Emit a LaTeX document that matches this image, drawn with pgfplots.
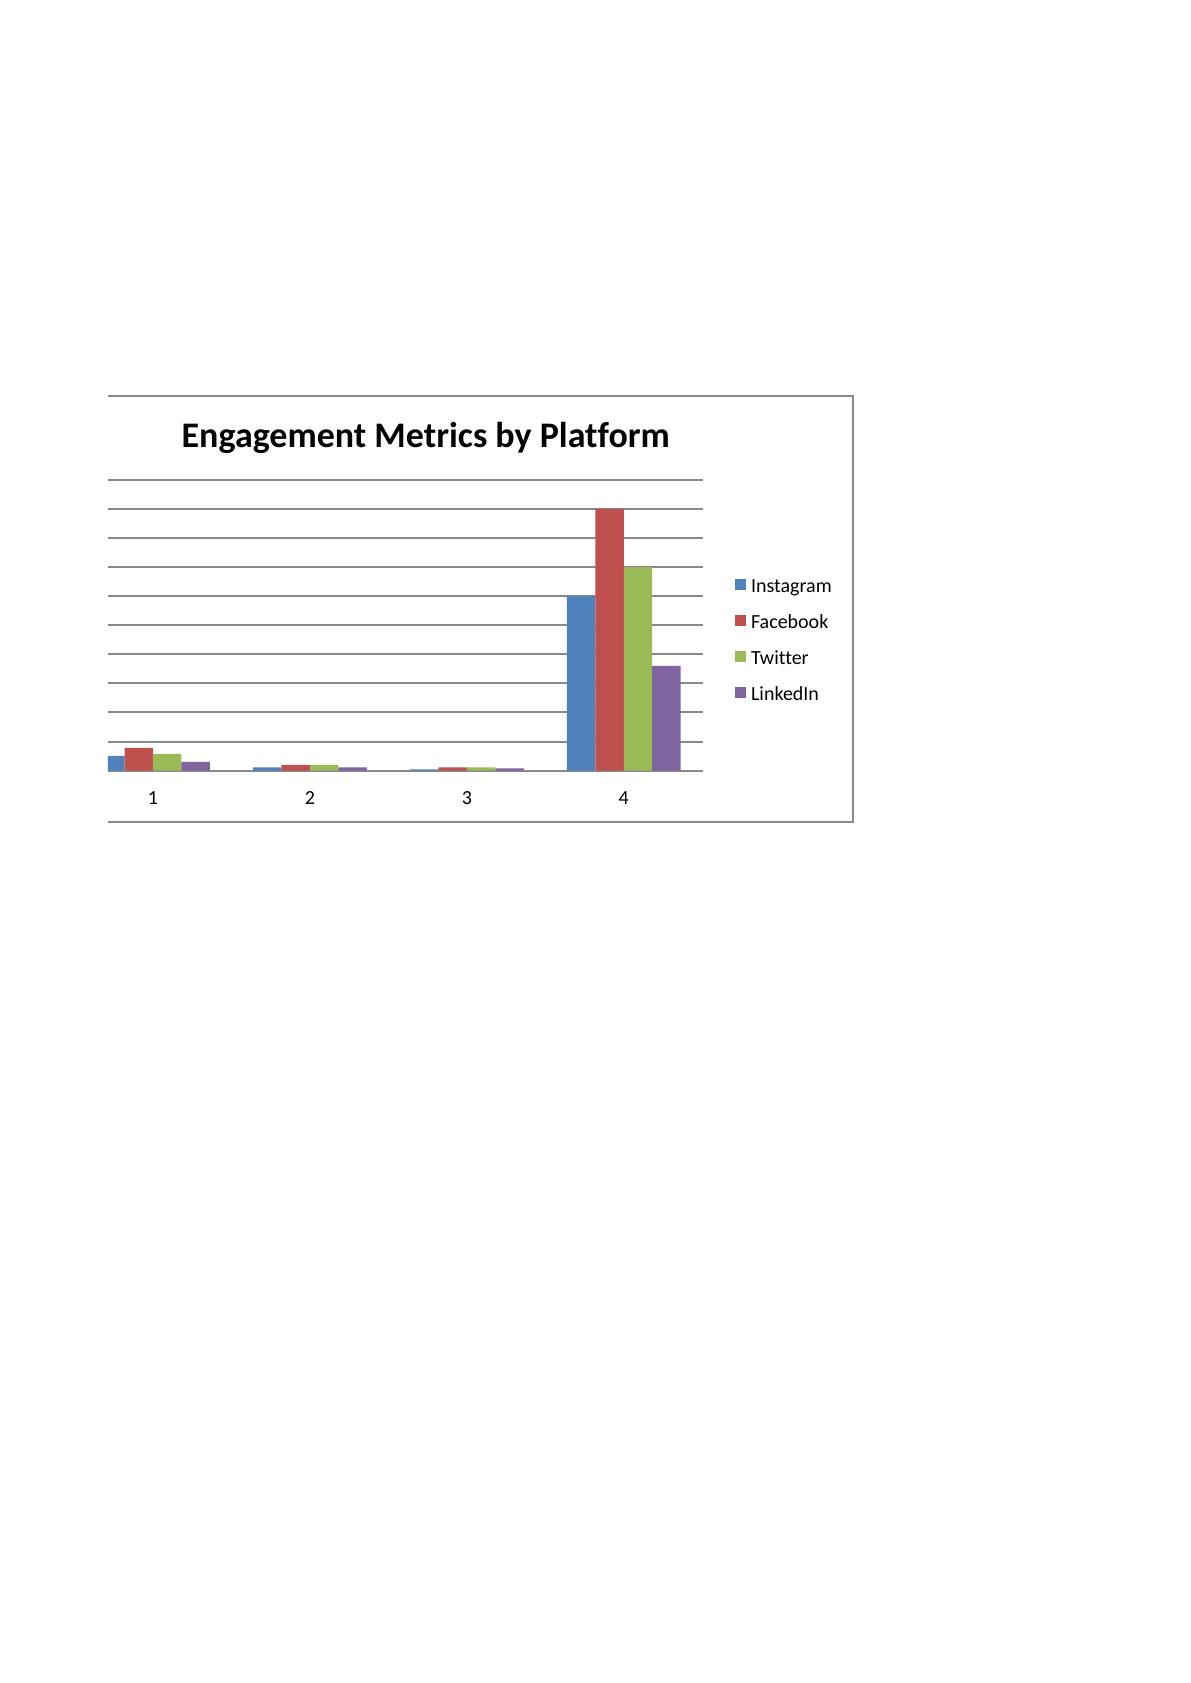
\documentclass[border=0pt]{standalone}
\usepackage{fontspec}
\setmainfont{Carlito}[Ligatures=NoCommon]
\usepackage{pgfplots}
\pgfplotsset{compat=1.18}

\definecolor{instaC}{HTML}{4F81BD}
\definecolor{faceC}{HTML}{C0504D}
\definecolor{twitC}{HTML}{9BBB59}
\definecolor{linkC}{HTML}{8064A2}
\definecolor{gridC}{HTML}{898989}

\begin{document}
\begin{tikzpicture}
% page of the size of the reference (A4, 2 px per pt)
\path[use as bounding box] (0,0) rectangle (595.28pt,841.89pt);

% chart area frame (left edge cut off in the reference)
\draw[gridC, line width=1pt] (54pt,643.89pt) -- (426.5pt,643.89pt)
  -- (426.5pt,430.89pt) -- (54pt,430.89pt);

\node[anchor=base, font=\fontsize{18}{20}\selectfont\bfseries]
  at (213pt,617.9pt) {Engagement Metrics by Platform};

\begin{axis}[
  at={(54pt,456.39pt)}, anchor=south west,
  scale only axis,
  width=297.5pt, height=145.5pt,
  ybar=0pt, bar width=0.1815,
  xmin=0.713, xmax=4.503,
  ymin=0, ymax=10,
  ytick={0,1,...,10}, yticklabels={},
  xtick={1,2,3,4}, xticklabels={1,2,3,4},
  xticklabel style={anchor=center, yshift=-13.5pt, font=\fontsize{10}{12}\selectfont},
  major tick length=0pt,
  axis line style={draw=none},
  ymajorgrids,
  major grid style={gridC, line width=1pt},
  legend style={draw=none, fill=none, at={(1.0538,0.445)}, anchor=west,
    inner sep=0pt, row sep=9.8pt, column sep=2.5pt,
    font=\fontsize{10}{12}\selectfont,
    nodes={inner sep=0pt, text height=6.5pt, text depth=1.5pt}},
  legend cell align=left,
  legend image code/.code={\fill[#1] (0pt,-1.25pt) rectangle (5.5pt,4.25pt);},
]
\addplot[fill=instaC, draw=none] coordinates {(1,0.51) (2,0.115) (3,0.046) (4,6.0)};
\addplot[fill=faceC, draw=none] coordinates {(1,0.78) (2,0.195) (3,0.115) (4,9.0)};
\addplot[fill=twitC, draw=none] coordinates {(1,0.58) (2,0.195) (3,0.115) (4,7.0)};
\addplot[fill=linkC, draw=none] coordinates {(1,0.30) (2,0.115) (3,0.08) (4,3.6)};
\legend{Instagram, Facebook, Twitter, LinkedIn}
\end{axis}
\end{tikzpicture}
\end{document}
